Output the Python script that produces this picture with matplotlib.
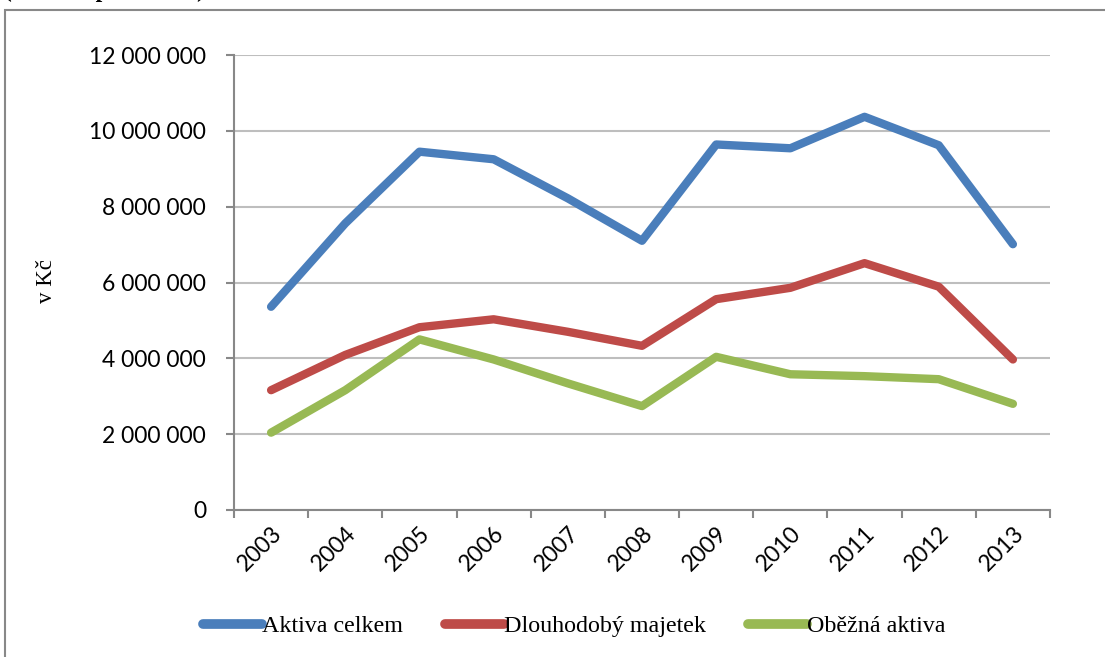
import numpy as np
import matplotlib.pyplot as plt
from matplotlib.ticker import FuncFormatter, FixedLocator
from matplotlib.patches import Rectangle

years = ['2003', '2004', '2005', '2006', '2007', '2008', '2009', '2010', '2011', '2012', '2013']
aktiva_celkem = [5360000, 7560000, 9450000, 9250000, 8220000, 7100000, 9640000, 9540000, 10370000, 9620000, 7010000]
dlouhodoby_majetek = [3160000, 4090000, 4820000, 5030000, 4700000, 4330000, 5560000, 5860000, 6510000, 5890000, 3970000]
obezna_aktiva = [2040000, 3160000, 4500000, 3970000, 3340000, 2740000, 4040000, 3580000, 3530000, 3450000, 2800000]

series = [
    ('Aktiva celkem', aktiva_celkem, '#4A7EBB'),
    ('Dlouhodobý majetek', dlouhodoby_majetek, '#BE4B48'),
    ('Oběžná aktiva', obezna_aktiva, '#98B954'),
]

fig = plt.figure(figsize=(11.05, 6.57), dpi=100)
ax = fig.add_axes([234 / 1105, 1 - 510 / 657, (1050 - 234) / 1105, (510 - 55) / 657])

x = np.arange(len(years))
for name, vals, col in series:
    ax.plot(x, vals, color=col, lw=6, label=name,
            solid_capstyle='round', solid_joinstyle='round')

ax.set_xlim(-0.5, len(years) - 0.5)
ax.set_ylim(0, 12000000)
ax.set_yticks(np.arange(0, 12000001, 2000000))
ax.yaxis.set_major_formatter(FuncFormatter(lambda v, p: f'{int(v):,}'.replace(',', ' ')))
ax.grid(axis='y', color='#BEBEBE', lw=1.5)
ax.set_axisbelow(True)

# ticks on category boundaries, labels in category centres
ax.xaxis.set_major_locator(FixedLocator(np.arange(-0.5, len(years), 1.0)))
ax.xaxis.set_major_formatter(FuncFormatter(lambda v, p: ''))
ax.xaxis.set_minor_locator(FixedLocator(x))
ax.set_xticklabels(years, minor=True, rotation=45, ha='right', rotation_mode='anchor',
                   fontsize=16.5, family='Lato')
ax.tick_params(axis='x', which='minor', length=0, pad=9)
ax.tick_params(axis='x', which='major', length=6, color='#888888', width=1.5)
ax.tick_params(axis='y', length=6, color='#888888', width=1.5, labelsize=16.5, pad=14)
for lab in ax.get_yticklabels():
    lab.set_family('Lato')

for s in ['top', 'right']:
    ax.spines[s].set_visible(False)
for s in ['left', 'bottom']:
    ax.spines[s].set_color('#888888')
    ax.spines[s].set_linewidth(1.5)

fig.text(47 / 1105, 1 - 281 / 657, 'v Kč', rotation=90, ha='center', va='center',
         fontsize=16.5, family='Liberation Serif')

leg = fig.legend(loc='center', bbox_to_anchor=(574 / 1105, 1 - 626 / 657), ncol=3,
                 frameon=False, handlelength=2.45, handletextpad=0.0, columnspacing=1.75,
                 prop={'family': 'Liberation Serif', 'size': 17.3})
for h in leg.get_lines():
    h.set_linewidth(7)
    h.set_solid_capstyle('round')

# outer frame of the embedded chart
fig.patches.append(Rectangle((5 / 1105, -0.1), 1.2, 1 - 10 / 657 + 0.1,
                             transform=fig.transFigure, fill=False,
                             edgecolor='#888888', lw=1.5))
# bottom of the cut-off caption line above the chart
fig.text(4 / 1105, 1 + 2.5 / 657, '(vlastní zpracování)', ha='left', va='baseline',
         fontsize=17, fontweight='bold', family='Liberation Serif')

fig.savefig('out.png', dpi=100)
